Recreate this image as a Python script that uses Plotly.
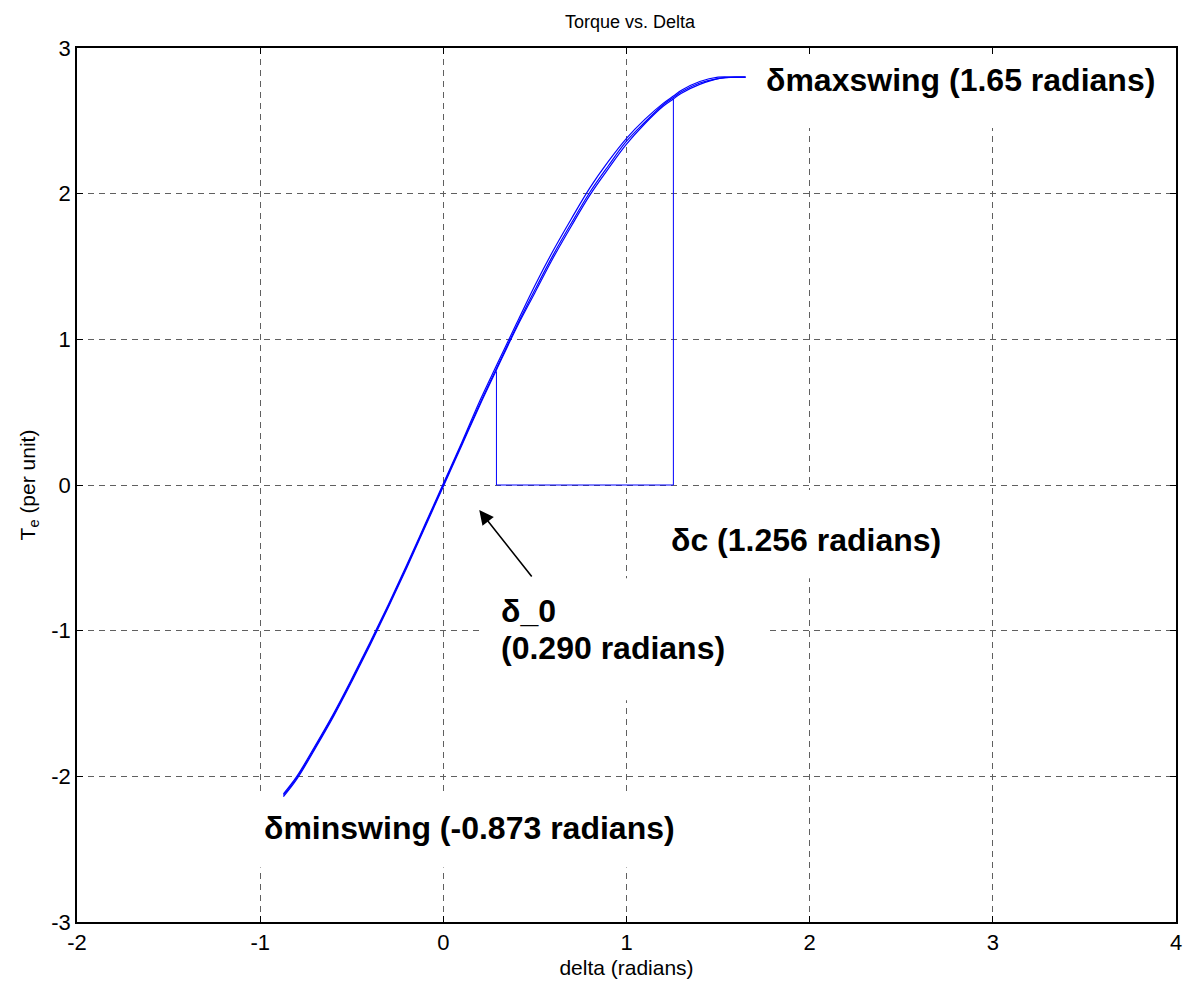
import plotly.graph_objects as go

# ---- data ----
# fault-on path (delta_0 -> delta_c)
fault_delta = [0.29, 0.29, 1.256, 1.256]
fault_te = [0.78, 0.0, 0.0, 2.65]

# swing curve samples (several overlapping swings)
swing_delta = [-0.873, -0.8, -0.7, -0.6, -0.5, -0.4, -0.3, -0.2, -0.1, 0.0,
               0.1, 0.2, 0.29, 0.4, 0.5, 0.6, 0.7, 0.8, 0.9, 1.0,
               1.1, 1.2, 1.256, 1.3, 1.4, 1.5, 1.6, 1.65]
swing_te_1 = [-2.13, -2.01, -1.80, -1.58, -1.34, -1.09, -0.83, -0.56, -0.28, 0.0,
              0.28, 0.56, 0.80, 1.09, 1.34, 1.58, 1.80, 2.01, 2.19, 2.36,
              2.49, 2.61, 2.66, 2.70, 2.76, 2.79, 2.80, 2.80]
swing_te_2 = [-2.12, -2.00, -1.79, -1.57, -1.33, -1.08, -0.82, -0.55, -0.27, 0.01,
              0.29, 0.58, 0.82, 1.11, 1.37, 1.61, 1.83, 2.04, 2.22, 2.38,
              2.51, 2.62, 2.67, 2.71, 2.77, 2.80, 2.80, 2.80]
swing_te_3 = [-2.14, -2.02, -1.81, -1.59, -1.35, -1.10, -0.84, -0.57, -0.29, -0.01,
              0.27, 0.55, 0.79, 1.08, 1.32, 1.56, 1.78, 1.99, 2.17, 2.34,
              2.48, 2.60, 2.65, 2.69, 2.75, 2.79, 2.80, 2.80]

x_ticks = [-2, -1, 0, 1, 2, 3, 4]
y_ticks = [-3, -2, -1, 0, 1, 2, 3]

BLUE = "#0000ff"
FONT = "Liberation Sans, Arial, Helvetica, sans-serif"

fig = go.Figure()
fig.add_trace(go.Scatter(x=fault_delta, y=fault_te, mode="lines",
                         line=dict(color=BLUE, width=1), hoverinfo="skip"))
for te in (swing_te_1, swing_te_2, swing_te_3):
    fig.add_trace(go.Scatter(x=swing_delta, y=te, mode="lines",
                             line=dict(color=BLUE, width=1.2, shape="spline"),
                             hoverinfo="skip"))

# white boxes behind the labels (hide the grid, stay under the curve)
boxes = [
    (1.685, 3.96, 2.45, 2.99),
    (1.15, 2.83, -0.64, -0.035),
    (0.207, 1.777, -1.478, -0.64),
    (-1.087, 1.33, -2.625, -2.13),
]
for x0, x1, y0, y1 in boxes:
    fig.add_shape(type="rect", x0=x0, x1=x1, y0=y0, y1=y1, xref="x", yref="y",
                  fillcolor="white", line=dict(width=0), layer="between")

ann_font = dict(family=FONT, size=32, color="black", weight="bold")
labels = [
    (1.75, 2.78, "δmaxswing (1.65 radians)"),
    (1.23, -0.378, "δc (1.256 radians)"),
    (0.305, -0.862, "δ_0"),
    (0.305, -1.12, "(0.290 radians)"),
    (-0.99, -2.357, "δminswing (-0.873 radians)"),
]
for x, y, t in labels:
    fig.add_annotation(x=x, y=y, text=t, showarrow=False, xanchor="left",
                       yanchor="middle", align="left", font=ann_font)

# arrow pointing at delta_0
fig.add_annotation(x=0.196, y=-0.172, ax=0.489, ay=-0.639, axref="x", ayref="y",
                   xref="x", yref="y", text="", showarrow=True, arrowhead=2,
                   arrowsize=1.8, arrowwidth=1.6, arrowcolor="black")

axis_common = dict(showgrid=True, gridcolor="#606060", griddash="6px,5px",
                   gridwidth=1, showline=True, linecolor="black", linewidth=1.5,
                   mirror="ticks", ticks="inside", ticklen=6, tickcolor="black",
                   zeroline=False, tickfont=dict(family=FONT, size=22, color="black"))

fig.update_xaxes(range=[-2, 4], tickvals=x_ticks, ticktext=[str(v) for v in x_ticks],
                 title=dict(text="delta (radians)", font=dict(family=FONT, size=21, color="black"),
                            standoff=6),
                 **axis_common)
fig.update_yaxes(range=[-3, 3], tickvals=y_ticks, ticktext=[str(v) for v in y_ticks],
                 title=dict(text="T<sub>e</sub> (per unit)", font=dict(family=FONT, size=21, color="black"),
                            standoff=10),
                 **axis_common)

fig.update_layout(
    width=1192, height=990,
    margin=dict(l=77, r=10, t=48, b=68),
    paper_bgcolor="white", plot_bgcolor="white",
    showlegend=False,
    title=dict(text="Torque vs. Delta", x=0.5285, xanchor="center", y=0.978, yanchor="middle",
               font=dict(family=FONT, size=18, color="black")),
)

fig.write_html("out.html")
